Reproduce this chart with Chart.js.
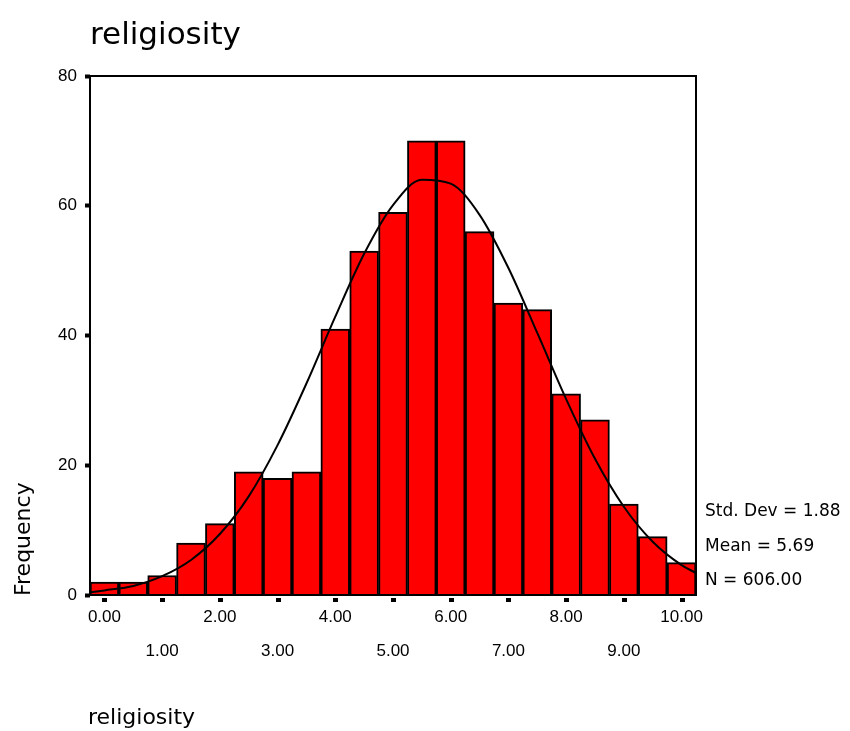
<!DOCTYPE html>
<html>
<head>
<meta charset="utf-8">
<script src="https://cdn.jsdelivr.net/npm/chart.js@4"></script>
<style>
  body { margin: 0; background: #fff; }
  #wrap { width: 850px; height: 731px; }
</style>
</head>
<body>
<div id="wrap"><canvas id="chart" width="850" height="731"></canvas></div>
<script>
// histogram bins (midpoints) and counts
const binMids = [0, 0.5, 1, 1.5, 2, 2.5, 3, 3.5, 4, 4.5, 5, 5.5, 6, 6.5, 7, 7.5, 8, 8.5, 9, 9.5, 10];
const counts = [2, 2, 3, 8, 11, 19, 18, 19, 41, 53, 59, 70, 70, 56, 45, 44, 31, 27, 14, 9, 5];

// fitted curve
const curveX = [-0.25, 0, 0.5, 1, 1.5, 2, 2.5, 3, 3.5, 4, 4.5, 5, 5.5, 6, 6.5, 7, 7.5, 8, 8.5, 9, 9.5, 10, 10.25];
const curveY = [0.4, 0.7, 1.4, 2.9, 5.4, 9.4, 15.2, 23.1, 32.6, 42.9, 52.6, 60.1, 64.0, 63.4, 58.6, 50.4, 40.4, 30.2, 21.0, 13.6, 8.2, 4.6, 3.4];

const xTicks = [0, 1, 2, 3, 4, 5, 6, 7, 8, 9, 10];
const yTicks = [0, 20, 40, 60, 80];

const titleText = 'religiosity';
const xTitle = 'religiosity';
const yTitle = 'Frequency';
const statLines = ['Std. Dev = 1.88', 'Mean = 5.69', 'N = 606.00'];

const sansFont = '"DejaVu Sans", Tahoma, Verdana, sans-serif';

const barData = binMids.map((x, i) => ({ x: x, y: counts[i] }));
const lineData = curveX.map((x, i) => ({ x: x, y: curveY[i] }));

// frame, x tick squares, and the free-floating texts
const extras = {
    id: 'extras',
    afterDatasetsDraw(chart) {
        const ctx = chart.ctx;
        const a = chart.chartArea;
        const xs = chart.scales.x;
        ctx.save();
        ctx.strokeStyle = '#000';
        ctx.lineWidth = 2;
        ctx.strokeRect(a.left, a.top, a.right - a.left, a.bottom - a.top);

        ctx.fillStyle = '#000';
        xTicks.forEach(v => {
            const px = Math.round(xs.getPixelForValue(v));
            ctx.fillRect(px - 2, a.bottom + 3, 5, 4);
        });
        ctx.restore();
    },
    afterDraw(chart) {
        const ctx = chart.ctx;
        const a = chart.chartArea;
        ctx.save();
        ctx.fillStyle = '#000';
        ctx.textAlign = 'left';
        ctx.textBaseline = 'alphabetic';

        ctx.font = '31px ' + sansFont;
        ctx.fillText(titleText, a.left, 44);

        ctx.font = '22px ' + sansFont;
        ctx.fillText(xTitle, 88, 724);

        ctx.save();
        ctx.translate(30, 596);
        ctx.rotate(-Math.PI / 2);
        ctx.fillText(yTitle, 0, 0);
        ctx.restore();

        ctx.font = '17px ' + sansFont;
        ctx.textBaseline = 'middle';
        statLines.forEach((s, i) => {
            ctx.fillText(s, a.right + 9, 512 + i * 34.5);
        });
        ctx.restore();
    }
};

new Chart(document.getElementById('chart'), {
    type: 'bar',
    data: {
        datasets: [
            {
                type: 'line',
                data: lineData,
                borderColor: '#000',
                borderWidth: 2,
                pointRadius: 0,
                fill: false,
                cubicInterpolationMode: 'monotone',
                order: 0
            },
            {
                type: 'bar',
                data: barData,
                backgroundColor: '#ff0000',
                borderColor: '#000',
                borderWidth: 2,
                barPercentage: 1,
                categoryPercentage: 1,
                order: 1
            }
        ]
    },
    options: {
        responsive: false,
        animation: false,
        devicePixelRatio: 1,
        layout: { padding: { left: 0, top: 76, right: 154, bottom: 56 } },
        plugins: {
            legend: { display: false },
            tooltip: { enabled: false }
        },
        scales: {
            x: {
                type: 'linear',
                offset: false,
                min: -0.25,
                max: 10.25,
                afterBuildTicks: s => { s.ticks = xTicks.map(v => ({ value: v })); },
                afterFit: s => { s.height = 80; },
                grid: { display: false, drawTicks: false, offset: false },
                border: { display: false },
                ticks: {
                    autoSkip: false,
                    maxRotation: 0,
                    padding: 5,
                    color: '#000',
                    font: { family: '"Liberation Sans", Arial, sans-serif', size: 17, lineHeight: 2 },
                    callback: v => (v % 2 === 0 ? [v.toFixed(2), ''] : ['', v.toFixed(2)])
                }
            },
            y: {
                min: 0,
                max: 80,
                afterBuildTicks: s => { s.ticks = yTicks.map(v => ({ value: v })); },
                afterFit: s => { s.width = 90; },
                grid: { drawOnChartArea: false, drawTicks: true, tickLength: 5, tickWidth: 4, color: '#000' },
                border: { display: false },
                ticks: {
                    padding: 8,
                    color: '#000',
                    font: { family: '"Liberation Sans", Arial, sans-serif', size: 17 }
                }
            }
        }
    },
    plugins: [extras]
});
</script>
</body>
</html>
